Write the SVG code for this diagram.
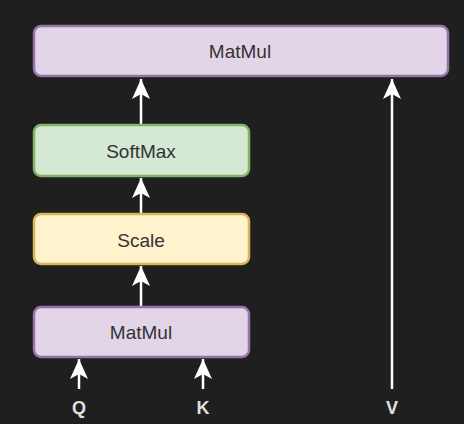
<svg xmlns="http://www.w3.org/2000/svg" width="464" height="424" viewBox="0 0 464 424">
<style>
.box{stroke-width:2.5}
.purple{fill:#e1d5e7;stroke:#9673a6}
.green{fill:#d5e8d4;stroke:#82b366}
.yellow{fill:#fff2cc;stroke:#d6b656}
.lbl{font-family:"Liberation Sans",Arial,sans-serif;font-size:19px;fill:#333333;text-anchor:middle;dominant-baseline:central}
.io{font-family:"Liberation Sans",Arial,sans-serif;font-size:18px;font-weight:bold;fill:#e0e0e0;text-anchor:middle;dominant-baseline:central}
.edge{stroke:#ffffff;stroke-width:2.5;fill:none}
</style>
<defs>
<marker id="arr" viewBox="0 0 20 20" refX="20" refY="10" markerWidth="20" markerHeight="20" markerUnits="userSpaceOnUse" orient="auto">
<path d="M20,10 L0,1 L5,10 L0,19 Z" fill="#ffffff"/>
</marker>
</defs>
<rect width="464" height="424" fill="#1f1f1f"/>
<g id="connectors">
<line class="edge" x1="141" y1="124" x2="141" y2="79" marker-end="url(#arr)"/>
<line class="edge" x1="141" y1="213" x2="141" y2="178" marker-end="url(#arr)"/>
<line class="edge" x1="141" y1="306" x2="141" y2="266" marker-end="url(#arr)"/>
<line class="edge" x1="79" y1="389" x2="79" y2="359" marker-end="url(#arr)"/>
<line class="edge" x1="203" y1="389" x2="203" y2="359" marker-end="url(#arr)"/>
<line class="edge" x1="392" y1="389" x2="392" y2="79" marker-end="url(#arr)"/>
</g>
<g id="matmul-top">
<rect class="box purple" x="34" y="26" width="414" height="50" rx="7"/>
<text class="lbl" x="240" y="51">MatMul</text>
</g>
<g id="softmax">
<rect class="box green" x="34" y="125" width="215" height="51" rx="7"/>
<text class="lbl" x="141" y="151">SoftMax</text>
</g>
<g id="scale">
<rect class="box yellow" x="34" y="214" width="215" height="50" rx="7"/>
<text class="lbl" x="141" y="240">Scale</text>
</g>
<g id="matmul-bottom">
<rect class="box purple" x="34" y="307" width="215" height="50" rx="7"/>
<text class="lbl" x="141" y="332">MatMul</text>
</g>
<g id="Q"><text class="io" x="79" y="408">Q</text></g>
<g id="K"><text class="io" x="203" y="408">K</text></g>
<g id="V"><text class="io" x="392" y="408">V</text></g>
</svg>
